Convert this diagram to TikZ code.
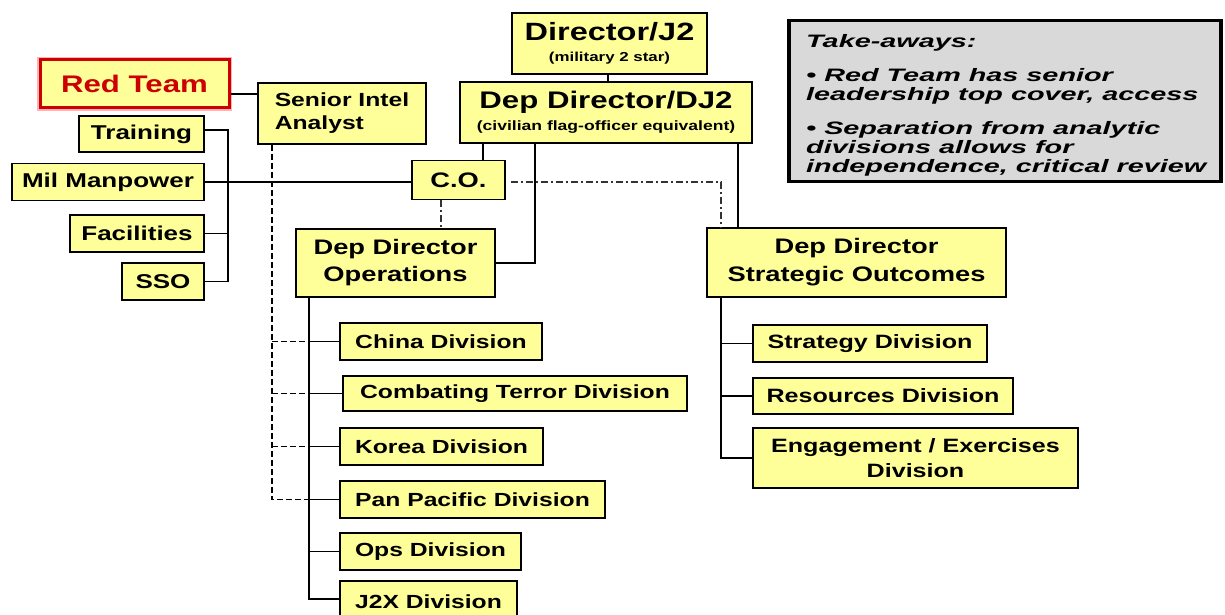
\documentclass[tikz,border=0pt]{standalone}
\usepackage{fontspec}
\setmainfont{Liberation Sans}[FakeStretch=1.3]
\newfontfamily\notefont{Liberation Sans}[FakeStretch=1.6]
\begin{document}
\begin{tikzpicture}[x=1pt,y=-1pt,
  box/.style={draw=black, line width=1.6pt, fill=boxyellow, align=center,
    inner sep=0pt, font=\bfseries},
  bus/.style={draw=black, line width=1.5pt},
  thickbus/.style={draw=black, line width=2.6pt},
  dotted link/.style={draw=black, line width=1.2pt, dash pattern=on 6pt off 3pt},
  dashdot link/.style={draw=black!80, line width=1.2pt, dash pattern=on 7pt off 3pt on 2pt off 3pt},
  fs/.style 2 args={font=\fontsize{#1}{#2}\selectfont\bfseries}]
\definecolor{boxyellow}{RGB}{255,255,153}
\definecolor{teamred}{RGB}{204,0,0}
\definecolor{notegray}{RGB}{217,217,217}
\useasboundingbox (0,0) rectangle (1225,615);
\clip (0,0) rectangle (1225,615);

% ---- top of the chain ----
\node[box, minimum width=195pt, minimum height=61pt, fs={25}{26}] (dir) at (609.5,43.5)
  {Director/J2\\[-5pt]{\fontsize{13}{13}\selectfont (military 2 star)}};
\node[box, minimum width=292pt, minimum height=61pt, fs={24}{25}] (dj2) at (606,112.5)
  {Dep Director/DJ2\\[-3pt]{\fontsize{13.5}{14}\selectfont (civilian flag-officer equivalent)}};
\node[box, minimum width=93pt, minimum height=39pt, fs={21}{22}] (co) at (458.5,180) {C.O.};

% ---- red team and staff offices ----
\node[box, minimum width=168pt, minimum height=61pt, fs={19}{23}, align=left] (sia) at (342,113.5)
  {Senior Intel\\Analyst};
\node[box, draw=teamred, line width=3pt, minimum width=189pt, minimum height=48pt,
  preaction={draw=red!30, line width=6pt}, fs={24}{26}, text=teamred] (red) at (134.5,84) {Red Team};
\node[box, minimum width=125pt, minimum height=36pt, fs={20}{22}] (trn) at (141.5,134) {Training};
\node[box, minimum width=192pt, minimum height=37pt, fs={20}{22}] (mil) at (108,182) {Mil Manpower};
\node[box, minimum width=134pt, minimum height=37pt, fs={20}{22}] (fac) at (137,233.5) {Facilities};
\node[box, minimum width=82pt, minimum height=37pt, fs={20}{22}] (sso) at (163,281.5) {SSO};

% ---- operations side ----
\node[box, minimum width=199pt, minimum height=68pt, fs={21}{27}] (ops) at (395.5,263)
  {Dep Director\\Operations};
\node[box, minimum width=202pt, minimum height=37pt, fs={19}{21}] (china) at (441,341.5) {China Division};
\node[box, minimum width=344pt, minimum height=35pt, fs={19}{21}] (ct) at (515,393.5) {Combating Terror Division};
\node[box, minimum width=203pt, minimum height=37pt, fs={19}{21}] (korea) at (441.5,446.5) {Korea Division};
\node[box, minimum width=265pt, minimum height=37pt, fs={19}{21}] (pan) at (472.5,499.5) {Pan Pacific Division};
\node[box, minimum width=181pt, minimum height=37pt, fs={19}{21}] (opsd) at (430.5,551.5) {Ops Division};
\node[box, minimum width=177pt, minimum height=42pt, fs={19}{21}] (j2x) at (428.5,602) {J2X Division};

% ---- strategic outcomes side ----
\node[box, minimum width=299pt, minimum height=69pt, fs={21}{28}] (so) at (856.5,262.5)
  {Dep Director\\Strategic Outcomes};
\node[box, minimum width=234pt, minimum height=37pt, fs={19.3}{21}] (strd) at (870,343.5) {Strategy Division};
\node[box, minimum width=260pt, minimum height=36pt, fs={19.3}{21}] (res) at (883,396) {Resources Division};
\node[box, minimum width=325pt, minimum height=60pt, fs={19.3}{25}] (eng) at (915.5,458)
  {Engagement / Exercises\\Division};

% ---- take-aways note ----
\node[draw=black, line width=3.5pt, fill=notegray, minimum width=432pt, minimum height=161pt,
  inner sep=0pt] (note) at (1005,101) {};
\node[anchor=north west, align=left, inner sep=0pt,
  font=\notefont\fontsize{18}{19}\selectfont\bfseries\itshape] (notetext) at (806,34)
  {Take-aways:\\[15pt]
   • Red Team has senior\\
   leadership top cover, access\\[15pt]
   • Separation from analytic\\
   divisions allows for\\
   independence, critical review};

% ---- bus positions ----
\coordinate (xStaff) at (228,0);
\coordinate (xSia) at (272,0);
\coordinate (xOps) at (309,0);
\coordinate (xCoOps) at (441,0);
\coordinate (xCo) at (483,0);
\coordinate (xDjOps) at (535,0);
\coordinate (xDir) at (608,0);
\coordinate (xSo) at (721,0);
\coordinate (xDjSo) at (738,0);

% ---- connectors ----
\draw[bus] (dir.south -| xDir) -- (dj2.north -| xDir);
\draw[bus] (dj2.south -| xCo) -- (co.north -| xCo);
\draw[thickbus] (dj2.south -| xDjOps) |- (ops.east);
\draw[bus] (dj2.south -| xDjSo) -- (so.north -| xDjSo);
\draw[bus] ([yshift=-10pt]red.east) -- ([yshift=-10pt]red.east -| sia.west);
\draw[bus] ([yshift=4pt]trn.east) -| (xStaff |- sso.east) -- (sso.east);
\draw[bus] (fac.east) -- (fac.east -| xStaff);
\draw[bus] (mil.east) -- (mil.east -| co.west);
\draw[dashdot link] ([xshift=5pt]mil.east -| co.east) -| (so.north -| xSo);
\draw[dashdot link] (co.south -| xCoOps) -- (ops.north -| xCoOps);
% senior intel analyst reaches the regional divisions
\draw[dotted link] (sia.south -| xSia) |- (pan.west -| xOps);
\foreach \d in {china, ct, korea}
  \draw[dotted link] (\d.west -| xSia) -- (\d.west -| xOps);
% operations bus
\draw[bus] (ops.south -| xOps) |- ([yshift=3pt]j2x.west);
\foreach \d in {china, ct, korea, pan, opsd}
  \draw[bus] (\d.west -| xOps) -- (\d.west);
% strategic outcomes bus
\draw[bus] (so.south -| xSo) |- (eng.west);
\foreach \d in {strd, res}
  \draw[bus] (\d.west -| xSo) -- (\d.west);
\end{tikzpicture}
\end{document}
